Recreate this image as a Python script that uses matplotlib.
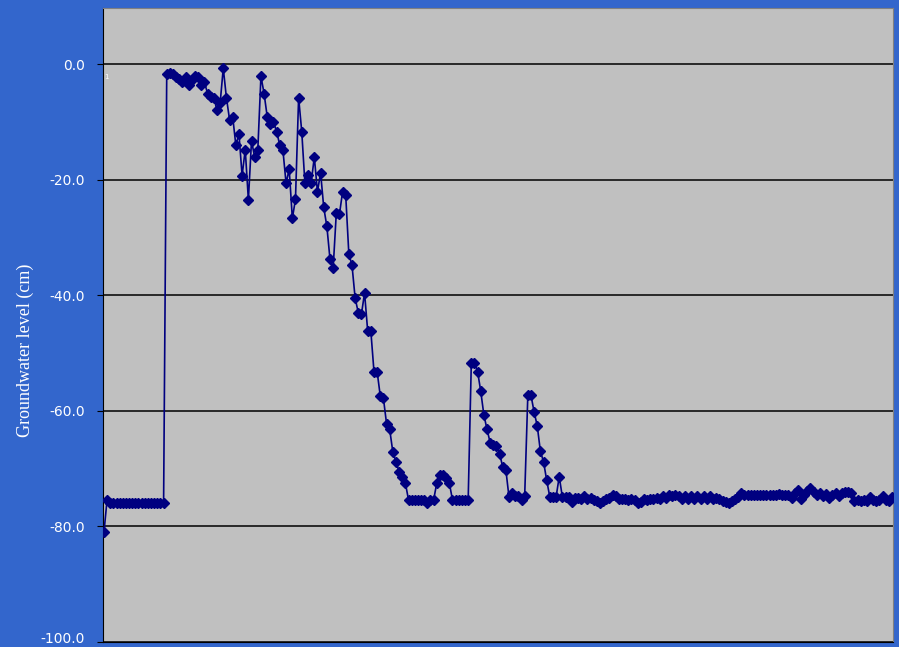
import numpy as np
import matplotlib.pyplot as plt
from matplotlib.transforms import ScaledTranslation

# groundwater level series (cm)
start = [-81.0, -75.4] + [-75.9] * 18

rise_and_fall = [
    -1.7, -1.6, -1.7, -2.2, -2.6, -3.1, -2.2, -3.6, -2.8, -2.1,
    -2.2, -3.6, -3.1, -5.1, -5.7, -5.8, -8.0, -6.8, -0.7, -5.8,
    -9.6, -9.1, -14.0, -12.1, -19.3, -14.8, -23.5, -13.3, -16.1, -14.9,
    -2.1, -5.1, -9.1, -10.3, -10.0, -11.7, -14.0, -14.9, -20.6, -18.2,
    -26.7, -23.4, -5.8, -11.7, -20.6, -19.2, -20.5, -16.1, -22.1, -18.8,
    -24.8, -28.1, -33.8, -35.3, -25.8, -26.0, -22.1, -22.7, -32.9, -34.8,
    -40.5, -43.0, -43.3, -39.6, -46.2, -46.2, -53.2, -53.2, -57.4, -57.8,
    -62.2, -63.2, -67.1, -68.8, -70.5, -71.4, -72.5, -75.4,
]

low_flat = [-75.4, -75.4, -75.4, -75.4, -75.4, -76.0, -75.4, -75.4]
small_bump = [-72.5, -71.1, -71.1, -71.7, -72.5]
flat_2 = [-75.4] * 6

peaks = [
    -51.7, -51.7, -53.2, -56.6, -60.7, -63.2, -65.5, -65.9, -66.1, -67.4,
    -69.7, -70.2, -74.9, -74.3, -74.7, -74.7, -75.4, -74.7, -57.3, -57.3,
    -60.2, -62.6, -67.0, -68.8, -72.0, -74.9, -74.9, -74.9, -71.4, -74.9,
    -74.9, -74.9, -75.7, -75.1,
]

tail = [
    -75.1, -75.2, -74.8, -75.3, -75.1, -75.4, -75.6, -76.0, -75.6, -75.2,
    -75.0, -74.6, -74.8, -75.2, -75.3, -75.2, -75.4, -75.2, -75.5, -76.0,
    -75.7, -75.3, -75.4, -75.2, -75.3, -75.1, -75.2, -74.7, -75.1, -74.6,
    -74.8, -74.6, -74.8, -75.3, -74.8, -75.3, -74.8, -75.3, -74.8, -75.3,
    -74.8, -75.3, -74.8, -75.2, -75.0, -75.3, -75.6, -75.8, -75.9, -75.6,
    -75.3, -74.9, -74.2, -74.6, -74.5, -74.6, -74.5, -74.6, -74.5, -74.6,
    -74.5, -74.6, -74.5, -74.6, -74.4, -74.6, -74.5, -74.5, -75.0, -74.3,
    -73.7, -75.2, -74.6, -73.8, -73.4, -74.0, -74.6, -74.2, -74.8, -74.4,
    -75.0, -74.5, -74.2, -74.8, -74.3, -74.1, -74.0, -74.2, -75.6, -75.5,
    -75.6, -75.4, -75.6, -74.9, -75.5, -75.6, -75.4, -74.8, -75.5, -75.6,
    -74.9,
]

level = np.array(start + rise_and_fall + low_flat + small_bump + flat_2 + peaks + tail)
yticks = [0, -20, -40, -60, -80, -100]

bg = "#3366CC"
plot_bg = "#C0C0C0"

fig = plt.figure(figsize=(8.99, 6.47), dpi=100, facecolor=bg)
ax = fig.add_axes([103 / 899, 1 - 642 / 647, 790 / 899, 634 / 647])
ax.set_facecolor(plot_bg)

x = np.arange(len(level))
ax.plot(x, level, color="#000080", linewidth=1.2, marker="D", markersize=4.7,
        markerfacecolor="#000080", markeredgecolor="#000080", zorder=3)

ax.set_xlim(-0.3, len(level) - 0.7)
ax.set_ylim(-100, 9.7)
ax.set_yticks(yticks)
ax.set_yticklabels([f"{v:.1f}" for v in yticks], color="white", fontsize=10)
ax.set_xticks([])
ax.tick_params(axis="y", direction="out", length=4, color="black", pad=9)

# bottom label sits right at the figure edge, nudge it up a little
lbl = ax.get_yticklabels()[-1]
lbl.set_transform(lbl.get_transform() + ScaledTranslation(0, 3 / 72, fig.dpi_scale_trans))

for v in yticks:
    ax.axhline(v, color="black", linewidth=1.1, zorder=1)

ax.spines["left"].set_color("black")
ax.spines["bottom"].set_color("black")
ax.spines["top"].set_color("#808080")
ax.spines["right"].set_color("#808080")

ax.text(0.2, -2.6, "1", color="white", fontsize=5)

fig.text(25 / 899, 1 - 350 / 647, "Groundwater level (cm)", rotation=90,
         color="white", fontsize=13, family="Liberation Serif",
         ha="center", va="center")

fig.savefig("out.png", dpi=100, facecolor=bg)
